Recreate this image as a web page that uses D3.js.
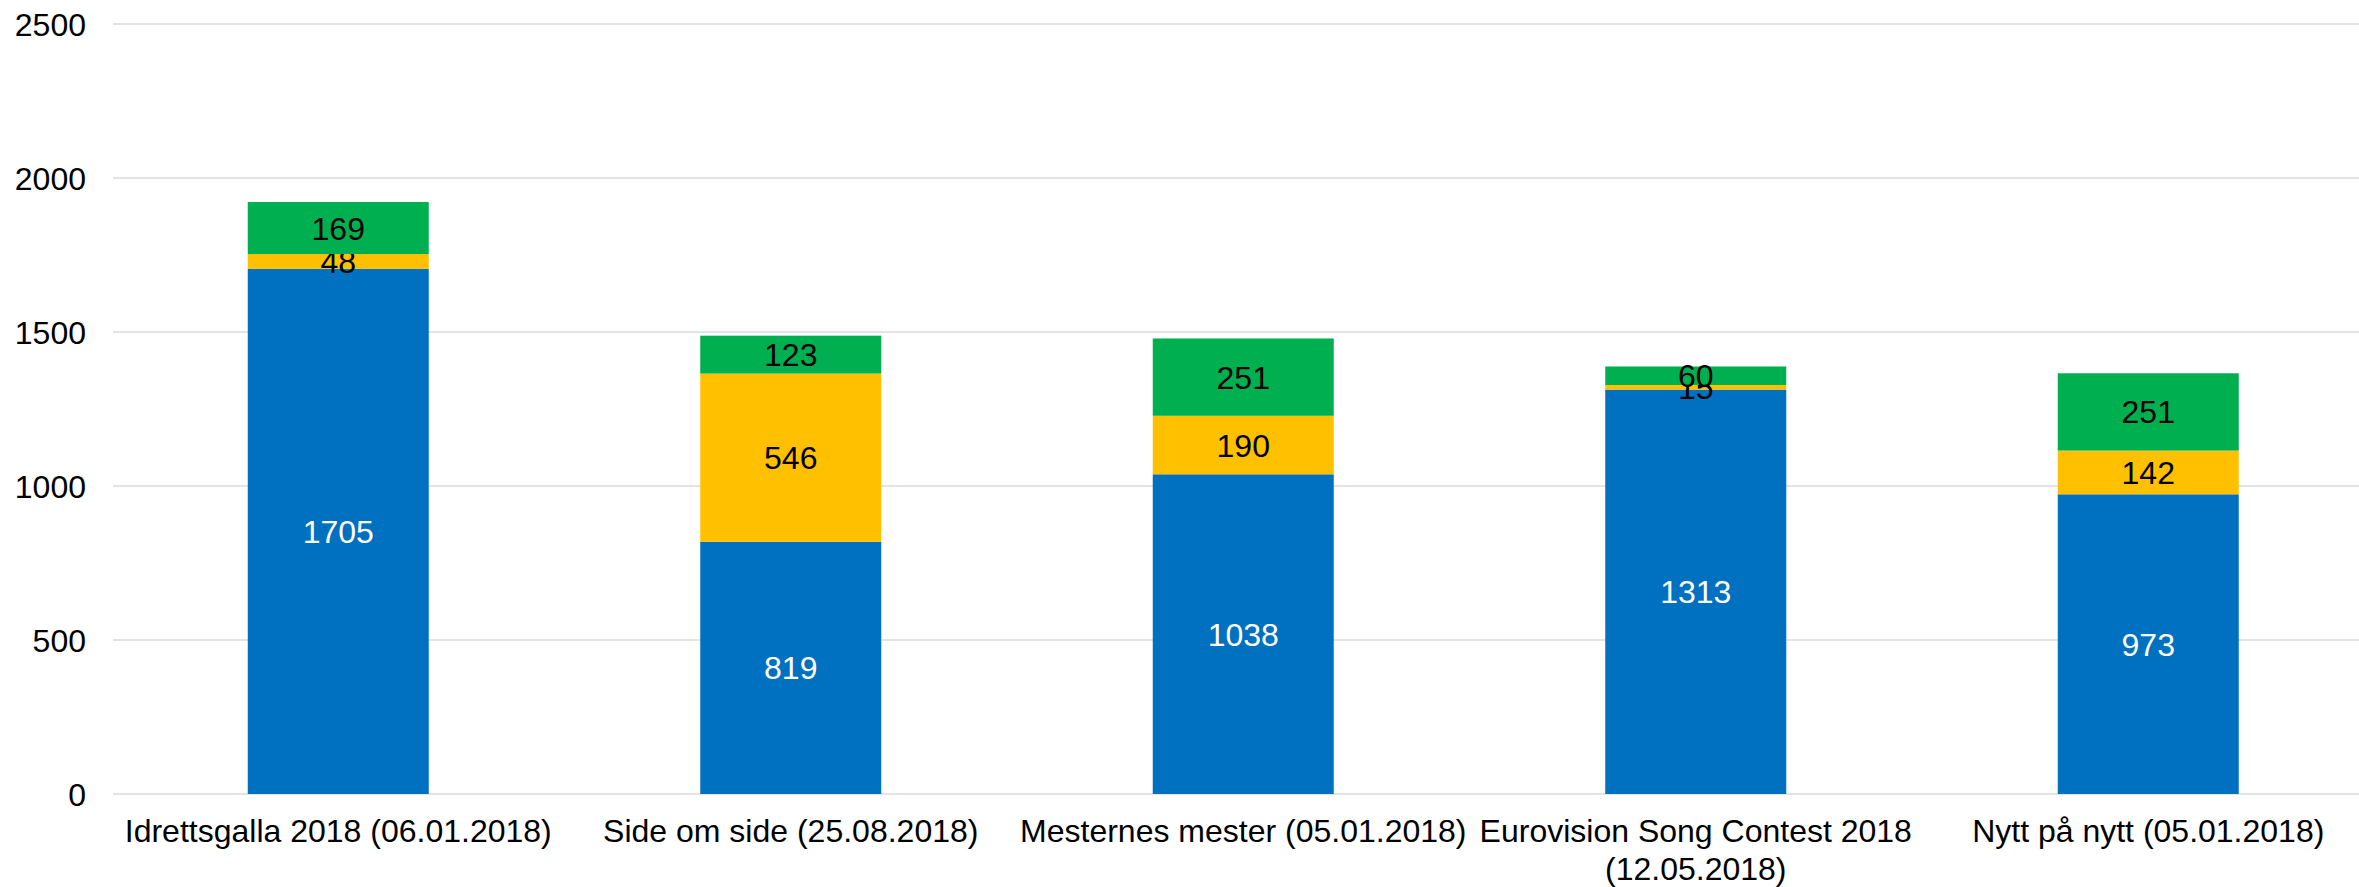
<!DOCTYPE html>
<html>
<head>
<meta charset="utf-8">
<script src="https://cdn.jsdelivr.net/npm/d3@7"></script>
<style>
  body { margin: 0; background: #fff; }
  text { font-family: "Liberation Sans", Arial, sans-serif; }
</style>
</head>
<body>
<script>
var categories = ["Idrettsgalla 2018 (06.01.2018)", "Side om side (25.08.2018)", "Mesternes mester (05.01.2018)", "Eurovision Song Contest 2018 (12.05.2018)", "Nytt på nytt (05.01.2018)"];
var blueValues = [1705, 819, 1038, 1313, 973];
var yellowValues = [48, 546, 190, 15, 142];
var greenValues = [169, 123, 251, 60, 251];
var yTicks = [0, 500, 1000, 1500, 2000, 2500];

var seriesKeys = ["blue", "yellow", "green"];
var colors = {blue: "#0070C0", yellow: "#FFC000", green: "#00B050"};
var labelColors = {blue: "#ffffff", yellow: "#000000", green: "#000000"};

var W = 2359, H = 887;
var svg = d3.select("body").append("svg")
        .attr("width", W)
        .attr("height", H);

var rows = categories.map(function(c, i){
  return {cat: c, blue: blueValues[i], yellow: yellowValues[i], green: greenValues[i]};
});

var x = d3.scaleBand().domain(categories).range([112, 2374.5]).paddingInner(0.6).paddingOuter(0.3);
var y = d3.scaleLinear().domain([0, 2500]).range([794, 24]);

// gridlines
svg.selectAll("line.grid")
  .data(yTicks)
  .enter().append("line")
    .attr("class", "grid")
    .attr("x1", 113).attr("x2", W)
    .attr("y1", function(d){ return y(d); })
    .attr("y2", function(d){ return y(d); })
    .attr("stroke", "#e4e4e4")
    .attr("stroke-width", 2);

// y tick labels
svg.selectAll("text.ytick")
  .data(yTicks)
  .enter().append("text")
    .attr("class", "ytick")
    .attr("x", 86)
    .attr("y", function(d){ return y(d); })
    .attr("dy", "0.36em")
    .attr("text-anchor", "end")
    .attr("font-size", 32)
    .attr("fill", "#000")
    .text(function(d){ return d; });

var stacked = d3.stack().keys(seriesKeys)(rows);

var layer = svg.selectAll("g.layer")
  .data(stacked)
  .enter().append("g")
    .attr("class", "layer")
    .attr("fill", function(d){ return colors[d.key]; });

layer.selectAll("rect")
  .data(function(d){ return d; })
  .enter().append("rect")
    .attr("x", function(d){ return x(d.data.cat); })
    .attr("width", x.bandwidth())
    .attr("y", function(d){ return y(d[1]); })
    .attr("height", function(d){ return y(d[0]) - y(d[1]); });

layer.selectAll("text")
  .data(function(d){ return d.map(function(p){ p.key = d.key; return p; }); })
  .enter().append("text")
    .attr("x", function(d){ return x(d.data.cat) + x.bandwidth() / 2; })
    .attr("y", function(d){ return (y(d[0]) + y(d[1])) / 2; })
    .attr("dy", "0.36em")
    .attr("text-anchor", "middle")
    .attr("font-size", 32)
    .attr("fill", function(d){ return labelColors[d.key]; })
    .text(function(d){ return d.data[d.key]; });

// category labels, wrapped when wider than the band step
var step = x.step();
svg.selectAll("text.cat")
  .data(categories)
  .enter().append("text")
    .attr("class", "cat")
    .attr("x", function(d){ return x(d) + x.bandwidth() / 2; })
    .attr("y", 842)
    .attr("text-anchor", "middle")
    .attr("font-size", 32)
    .attr("fill", "#000")
    .each(function(d){
      var t = d3.select(this);
      var words = d.split(" ");
      var line = [];
      var lines = [];
      var probe = t.append("tspan");
      words.forEach(function(w){
        line.push(w);
        probe.text(line.join(" "));
        if (probe.node().getComputedTextLength() > step - 4 && line.length > 1) {
          line.pop();
          lines.push(line.join(" "));
          line = [w];
        }
      });
      lines.push(line.join(" "));
      probe.remove();
      lines.forEach(function(l, i){
        t.append("tspan")
          .attr("x", t.attr("x"))
          .attr("dy", i === 0 ? 0 : 38)
          .text(l);
      });
    });
</script>
</body>
</html>
